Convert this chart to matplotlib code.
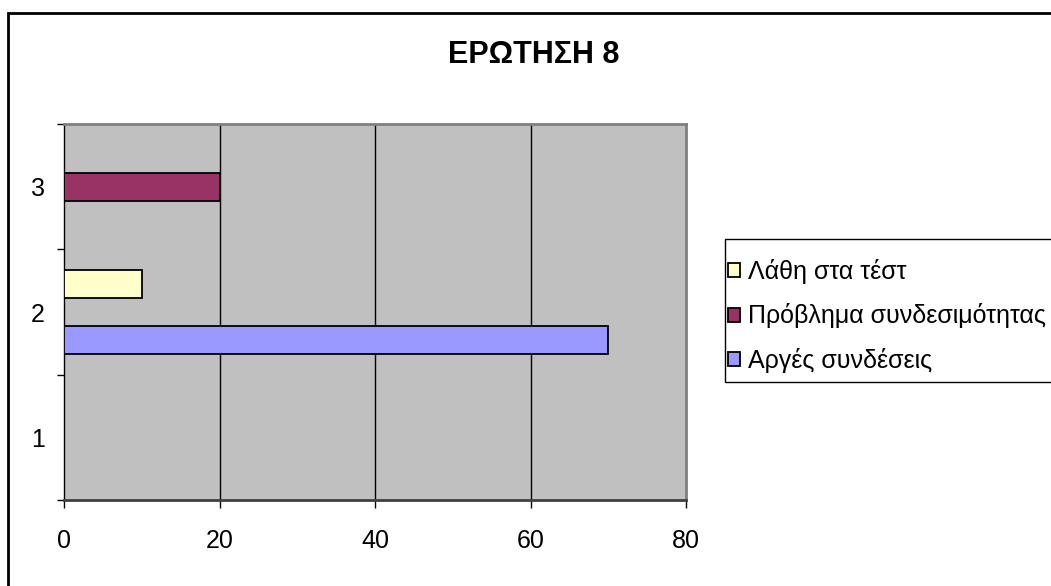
import numpy as np
import matplotlib
matplotlib.use('Agg')
import matplotlib.pyplot as plt
from matplotlib.patches import Rectangle, Patch

plt.rcParams['font.family'] = ['Liberation Sans', 'DejaVu Sans']

title = 'ΕΡΩΤΗΣΗ 8'
categories = [1, 2, 3]
series_names = ['Αργές συνδέσεις', 'Πρόβλημα συνδεσιμότητας', 'Λάθη στα τέστ']
slow = [0, 70, 0]
connect = [0, 0, 20]
errors = [0, 10, 0]
colors = ['#9999FF', '#993366', '#FFFFCC']
xticks = [0, 20, 40, 60, 80]

W, H = 1051, 586
fig = plt.figure(figsize=(W / 100, H / 100), dpi=100)
fig.patch.set_facecolor('white')

# outer chart border (right/bottom are outside the picture)
fig.add_artist(Rectangle((8 / W, -0.2), 1.2, (H - 13) / H + 0.2,
                         transform=fig.transFigure, fill=False,
                         edgecolor='black', linewidth=2))

left, right, top, bottom = 64, 686, 124, 500
ax = fig.add_axes([left / W, 1 - bottom / H, (right - left) / W, (bottom - top) / H])
ax.set_facecolor('#C0C0C0')

w = 1 / 4.5
cats = np.array(categories, dtype=float)
for i, (vals, c) in enumerate(zip([slow, connect, errors], colors)):
    vals = np.array(vals, dtype=float)
    m = vals > 0
    ax.barh(cats[m] + (i - 1) * w, vals[m], height=w, color=c,
            edgecolor='black', linewidth=1.3, zorder=3)

ax.set_xlim(0, 80)
ax.set_ylim(0.5, 3.5)
ax.set_xticks(xticks)
ax.set_xticklabels([str(t) for t in xticks])
ax.set_yticks(categories)
ax.set_yticks([0.5, 1.5, 2.5, 3.5], minor=True)
ax.tick_params(axis='x', direction='out', length=6, width=1, pad=15, labelsize=18)
ax.tick_params(axis='y', which='major', length=0, pad=14, labelsize=18)
ax.tick_params(axis='y', which='minor', direction='out', length=5, width=1)

for x in xticks[1:-1]:
    ax.axvline(x, color='black', linewidth=1, zorder=1)

ax.spines['top'].set_color('#808080')
ax.spines['right'].set_color('#808080')
ax.spines['top'].set_linewidth(2)
ax.spines['right'].set_linewidth(2)
ax.spines['left'].set_color('black')
ax.spines['left'].set_linewidth(1)
ax.spines['bottom'].set_color('#404040')
ax.spines['bottom'].set_linewidth(2)

fig.text(534 / W, 1 - 55 / H, title, ha='center', va='center',
         fontsize=22, fontweight='bold')

# legend frame (runs past the right edge, as in the reference)
fig.add_artist(Rectangle((725 / W, 1 - 382 / H), 0.5, (382 - 239) / H,
                         transform=fig.transFigure, facecolor='white',
                         edgecolor='black', linewidth=1))

handles = [Patch(facecolor=c, edgecolor='black', linewidth=1.3) for c in colors][::-1]
leg = fig.legend(handles, series_names[::-1], loc='upper left',
                 bbox_to_anchor=(728 / W, 1 - 259 / H), fontsize=18,
                 frameon=False, borderpad=0,
                 handlelength=0.48, handleheight=0.48, handletextpad=0.3,
                 labelspacing=0.78, borderaxespad=0)

fig.savefig('out.png', dpi=100)
